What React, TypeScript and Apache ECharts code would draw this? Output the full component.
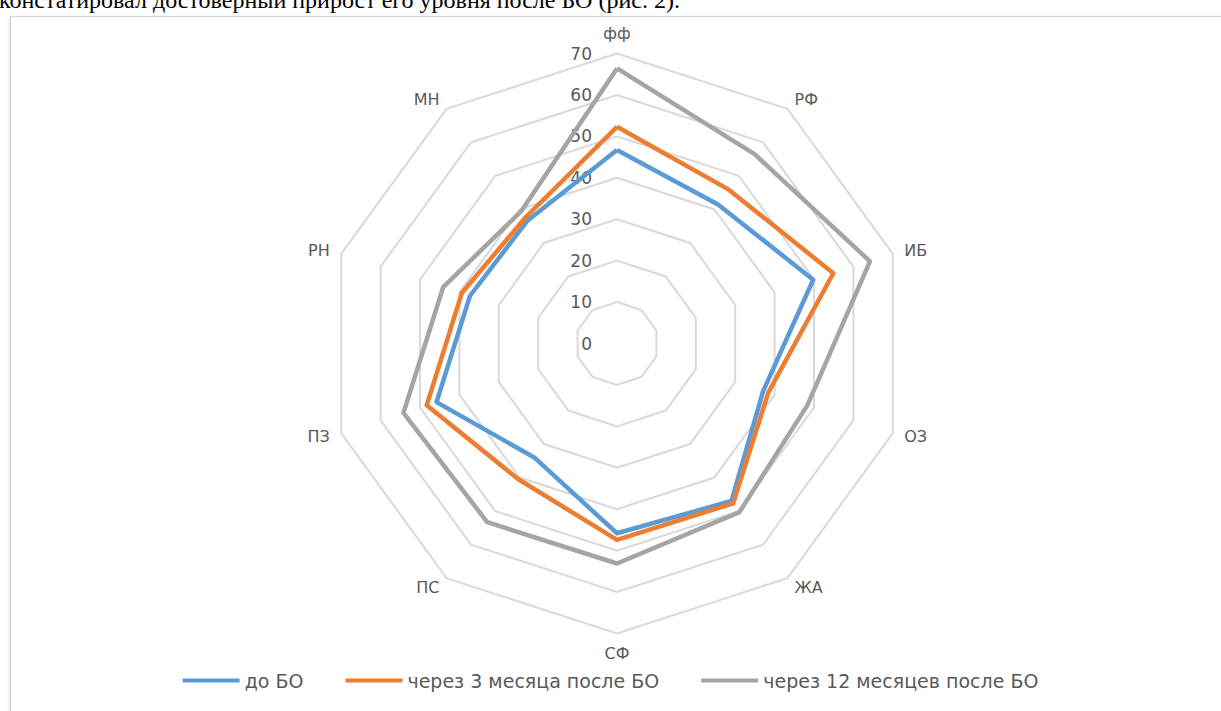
import React, { useEffect, useRef } from "react";
import * as echarts from "echarts";

// Indicators in the reference's clockwise order, starting at the top
const indicatorNames = ["фф", "РФ", "ИБ", "ОЗ", "ЖА", "СФ", "ПС", "ПЗ", "РН", "МН"];
const axisMin = 0;
const axisMax = 70;
const axisSplitNumber = 7;

const seriesNames = ["до БО", "через 3 месяца после БО", "через 12 месяцев после БО"];
const valuesBefore = [46.7, 41.5, 49.8, 37.1, 47.0, 45.8, 34.0, 45.8, 37.3, 36.7];
const valuesAfter3 = [52.3, 45.9, 54.9, 38.4, 47.7, 47.4, 40.5, 48.3, 39.4, 37.6];
const valuesAfter12 = [66.4, 56.5, 64.2, 48.3, 50.3, 53.1, 53.3, 54.2, 44.1, 39.4];
const seriesColors = ["#5B9BD5", "#ED7D31", "#A5A5A5"];

const FONT = "'DejaVu Sans', 'Noto Sans', sans-serif";
const TEXT_COLOR = "#595959";

export default function App() {
  const ref = useRef<HTMLDivElement>(null);

  useEffect(() => {
    if (!ref.current) return;
    const chart = echarts.init(ref.current, undefined, { renderer: "svg" });

    // ECharts places radar indicators counter-clockwise; reorder so the
    // picture reads clockwise like the reference.
    const n = indicatorNames.length;
    const order = indicatorNames.map((_, k) => (k === 0 ? 0 : n - k));
    const reorder = (arr: number[]) => order.map((i) => arr[i]);
    const allValues = [valuesBefore, valuesAfter3, valuesAfter12];

    chart.setOption({
      animation: false,
      color: seriesColors,
      legend: {
        bottom: 16,
        left: "center",
        icon: "rect",
        itemWidth: 57,
        itemHeight: 4,
        itemGap: 42,
        data: seriesNames,
        textStyle: { color: TEXT_COLOR, fontSize: 19, fontFamily: FONT },
      },
      radar: {
        center: [617, 343.5],
        radius: 290,
        startAngle: 90,
        shape: "polygon",
        splitNumber: axisSplitNumber,
        nameGap: 12,
        axisName: { color: TEXT_COLOR, fontSize: 16, fontFamily: FONT },
        indicator: order.map((i, k) => ({
          name: indicatorNames[i],
          min: axisMin,
          max: axisMax,
          axisLabel: { show: k === 0 },
        })),
        axisLine: { show: false },
        axisTick: { show: false },
        axisLabel: {
          show: true,
          color: TEXT_COLOR,
          fontSize: 17,
          fontFamily: FONT,
          margin: 25,
        },
        splitLine: { lineStyle: { color: "#D9D9D9", width: 2 } },
        splitArea: { show: false },
      },
      series: seriesNames.map((name, s) => ({
        type: "radar",
        name,
        symbol: "none",
        lineStyle: { width: 4.5, color: seriesColors[s] },
        itemStyle: { color: seriesColors[s] },
        data: [{ name, value: reorder(allValues[s]) }],
      })),
    });

    return () => chart.dispose();
  }, []);

  return (
    <div
      style={{
        position: "absolute",
        left: 0,
        top: 0,
        width: 1221,
        height: 711,
        overflow: "hidden",
        background: "#fff",
      }}
    >
      <div
        style={{
          position: "absolute",
          left: -1,
          top: -12,
          fontFamily: "'Liberation Serif', 'Times New Roman', serif",
          fontSize: 24,
          lineHeight: "24px",
          whiteSpace: "nowrap",
          color: "#000",
        }}
      >
        констатировал достоверный прирост его уровня после БО (рис. 2).
      </div>
      <div
        style={{
          position: "absolute",
          left: 10,
          top: 16,
          width: 1400,
          height: 900,
          border: "1px solid #D4D4D4",
          boxShadow: "0 2px 4px rgba(0,0,0,0.18)",
          background: "#fff",
        }}
      />
      <div
        ref={ref}
        style={{ position: "absolute", left: 0, top: 0, width: 1221, height: 711 }}
      />
    </div>
  );
}
